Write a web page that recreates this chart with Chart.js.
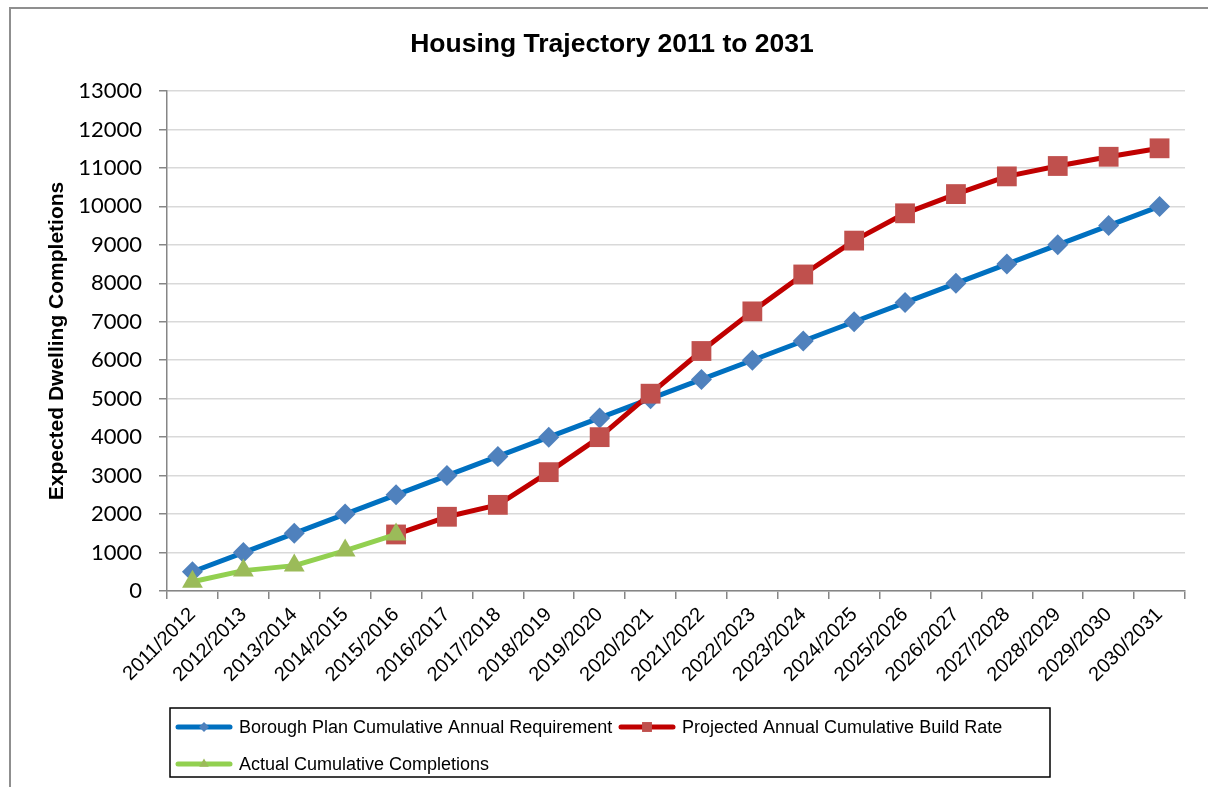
<!DOCTYPE html>
<html>
<head>
<meta charset="utf-8">
<script src="https://cdn.jsdelivr.net/npm/chart.js@4.4.0/dist/chart.umd.min.js"></script>
<style>
  html, body { margin: 0; padding: 0; background: #fff; overflow: hidden; }
  .frame {
    position: absolute; left: 9px; top: 7px;
    width: 1205px; height: 785px;
    border-left: 2px solid #8f8f8f; border-top: 2px solid #8f8f8f;
    overflow: hidden;
  }
</style>
</head>
<body>
<div class="frame">
  <canvas id="myChart" width="1203" height="778"></canvas>
</div>
<script>
const categories = ['2011/2012', '2012/2013', '2013/2014', '2014/2015', '2015/2016',
  '2016/2017', '2017/2018', '2018/2019', '2019/2020', '2020/2021',
  '2021/2022', '2022/2023', '2023/2024', '2024/2025', '2025/2026',
  '2026/2027', '2027/2028', '2028/2029', '2029/2030', '2030/2031'];

const requirement = [500, 1000, 1500, 2000, 2500, 3000, 3500, 4000, 4500, 5000,
  5500, 6000, 6500, 7000, 7500, 8000, 8500, 9000, 9500, 10000];

const projected = [null, null, null, null, 1470, 1930, 2240, 3090, 4000, 5130,
  6240, 7270, 8230, 9110, 9820, 10320, 10780, 11050, 11290, 11510];

const completions = [240, 530, 660, 1050, 1470, null, null, null, null, null,
  null, null, null, null, null, null, null, null, null, null];

const seriesNames = ['Borough Plan Cumulative Annual Requirement',
  'Projected Annual Cumulative Build Rate',
  'Actual Cumulative Completions'];

const yTicks = [0, 1000, 2000, 3000, 4000, 5000, 6000, 7000, 8000, 9000, 10000, 11000, 12000, 13000];

const axisGray = '#868686';

// legend drawn by hand: line sample with marker, inside a black box
const boxLegend = {
  id: 'boxLegend',
  afterDraw(chart) {
    const ctx = chart.ctx;
    const items = [
      { x: 167, y: 718, ds: chart.data.datasets[2] },
      { x: 610, y: 718, ds: chart.data.datasets[1] },
      { x: 167, y: 755, ds: chart.data.datasets[0] }
    ];
    ctx.save();
    ctx.strokeStyle = '#000';
    ctx.lineWidth = 1.5;
    ctx.strokeRect(159, 699, 880, 69);
    items.forEach(function(it) {
      ctx.strokeStyle = it.ds.borderColor;
      ctx.lineWidth = 5;
      ctx.lineCap = 'round';
      ctx.beginPath();
      ctx.moveTo(it.x, it.y);
      ctx.lineTo(it.x + 52, it.y);
      ctx.stroke();
      ctx.fillStyle = it.ds.pointBackgroundColor;
      Chart.helpers.drawPoint(ctx, {
        pointStyle: it.ds.pointStyle,
        radius: it.ds.legendRadius,
        borderWidth: 0,
        rotation: 0
      }, it.x + 26, it.y);
      ctx.fillStyle = '#000';
      ctx.font = '18px "Liberation Sans", Arial, sans-serif';
      ctx.textBaseline = 'middle';
      ctx.textAlign = 'left';
      ctx.fillText(it.ds.label, it.x + 61, it.y + 1);
    });
    ctx.restore();
  }
};

var ctx = document.getElementById('myChart').getContext('2d');
var myChart = new Chart(ctx, {
  type: 'line',
  data: {
    labels: categories,
    datasets: [{
      label: seriesNames[2],
      data: completions,
      borderColor: '#92D050',
      borderWidth: 5,
      pointStyle: 'triangle',
      pointRadius: 12,
      legendRadius: 5.5,
      pointBackgroundColor: '#9BBB59',
      pointBorderWidth: 0,
      order: 1
    }, {
      label: seriesNames[1],
      data: projected,
      borderColor: '#C00000',
      borderWidth: 5,
      pointStyle: 'rect',
      pointRadius: 14,
      legendRadius: 7,
      pointBackgroundColor: '#C0504D',
      pointBorderWidth: 0,
      order: 2
    }, {
      label: seriesNames[0],
      data: requirement,
      borderColor: '#0070C0',
      borderWidth: 5,
      pointStyle: 'rectRot',
      pointRadius: 10.5,
      legendRadius: 5,
      pointBackgroundColor: '#4F81BD',
      pointBorderWidth: 0,
      order: 3
    }]
  },
  options: {
    responsive: false,
    animation: false,
    devicePixelRatio: 1,
    layout: {
      padding: { left: 28, right: 29, top: 0, bottom: 86 }
    },
    elements: {
      line: { tension: 0, borderCapStyle: 'round', borderJoinStyle: 'round' }
    },
    plugins: {
      legend: { display: false },
      tooltip: { enabled: false },
      title: {
        display: true,
        text: 'Housing Trajectory 2011 to 2031',
        color: '#000',
        font: { family: '"Liberation Sans", Arial, sans-serif', size: 26.5, weight: 'bold' },
        padding: { top: 20, bottom: 30.2 }
      }
    },
    scales: {
      x: {
        offset: true,
        afterFit: function(scale) { scale.height = 110; },
        border: { color: axisGray, width: 1.5 },
        grid: {
          display: true,
          drawOnChartArea: false,
          drawTicks: true,
          tickLength: 8,
          offset: true,
          color: axisGray,
          lineWidth: 1.5
        },
        ticks: {
          color: '#000',
          font: { family: '"Liberation Sans", Arial, sans-serif', size: 20 },
          minRotation: 45,
          maxRotation: 45,
          autoSkip: false,
          padding: 4
        }
      },
      y: {
        min: yTicks[0],
        max: yTicks[yTicks.length - 1],
        afterFit: function(scale) { scale.width = 128; },
        afterBuildTicks: function(scale) {
          scale.ticks = yTicks.map(function(v) { return { value: v }; });
        },
        border: { color: axisGray, width: 1.5 },
        grid: {
          color: '#d9d9d9',
          lineWidth: 1.5,
          tickColor: axisGray,
          tickLength: 8
        },
        ticks: {
          color: '#000',
          font: { family: 'Lato, "Liberation Sans", sans-serif', size: 22 },
          padding: 17,
          callback: function(value) { return String(value); }
        },
        title: {
          display: true,
          text: 'Expected Dwelling Completions',
          color: '#000',
          font: { family: '"Liberation Sans", Arial, sans-serif', size: 21, weight: 'bold' },
          padding: { top: 6, bottom: 0 }
        }
      }
    }
  },
  plugins: [boxLegend]
});
</script>
</body>
</html>
